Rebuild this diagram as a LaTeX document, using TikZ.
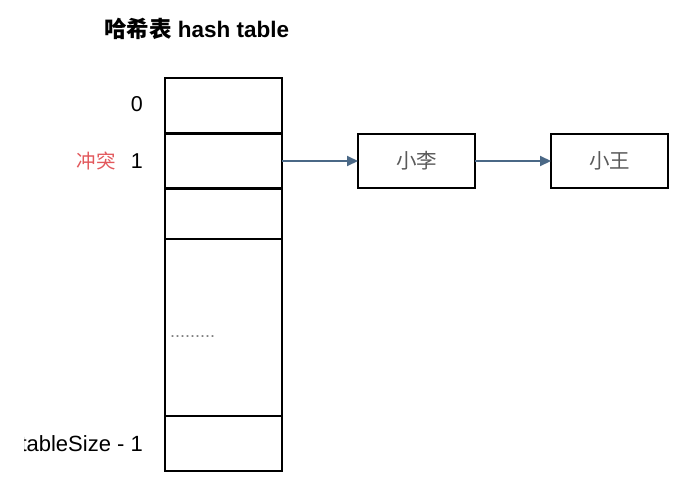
\documentclass[tikz,border=0pt]{standalone}
\usepackage{fontspec}
\setmainfont{Liberation Sans}
\newfontfamily\cjk{Noto Sans CJK SC}
\usetikzlibrary{arrows.meta}
\definecolor{conflict}{RGB}{226,88,92}
\definecolor{arrowc}{RGB}{74,104,134}
\definecolor{textgray}{RGB}{90,90,90}
\tikzset{
  cell/.style={draw=black, line width=2pt, minimum width=117pt, inner sep=0pt, outer sep=0pt},
  item/.style={draw=black, line width=2pt, minimum width=117pt, minimum height=54pt, inner sep=0pt, outer sep=0pt, text=textgray, font=\cjk\fontsize{20.5}{21}\selectfont},
  link/.style={draw=arrowc, line width=2pt, -{Triangle[length=11pt,width=10pt]}},
  lbl/.style={inner sep=0pt, font=\fontsize{21.5}{22}\selectfont},
}
\begin{document}
\begin{tikzpicture}[x=1pt,y=-1pt]
\useasboundingbox (0,0) rectangle (695,482);
% table cells
\node[cell, minimum height=55pt] (c0) at (223.5,105.5) {};
\node[cell, minimum height=55pt] (c1) at (223.5,161) {};
\node[cell, minimum height=51pt] (c2) at (223.5,213.5) {};
\node[cell, minimum height=177pt] (c3) at (223.5,327.5) {};
\node[cell, minimum height=55pt] (c4) at (223.5,443.5) {};
% title
\node[inner sep=0pt, anchor=west, font=\bfseries\fontsize{22.5}{23}\selectfont] (title) at (104,29) {{\cjk\bfseries 哈希表} hash table};
% index labels
\node[lbl, anchor=east] (i0) at (143,104) {0};
\node[lbl, anchor=east] (i1) at (143,161) {1};
\node[inner sep=0pt, anchor=east, text=conflict, font=\cjk\fontsize{19.5}{20}\selectfont] (conf) at (116,161) {冲突};
\begin{scope}
\clip (24.5,420) rectangle (160,470);
\node[lbl, anchor=east, font=\fontsize{22}{22}\selectfont] (ilast) at (143,444) {tableSize - 1};
\end{scope}
\node[inner sep=0pt, anchor=west, text=gray, font=\fontsize{18}{18}\selectfont] (dots) at (170,337) {.........};
% chain
\node[item] (li) at (416.5,161) {小李};
\node[item] (wang) at (609.5,161) {小王};
\draw[link] (c1.east) -- (li.west);
\draw[link] (li.east) -- (wang.west);
\end{tikzpicture}
\end{document}
